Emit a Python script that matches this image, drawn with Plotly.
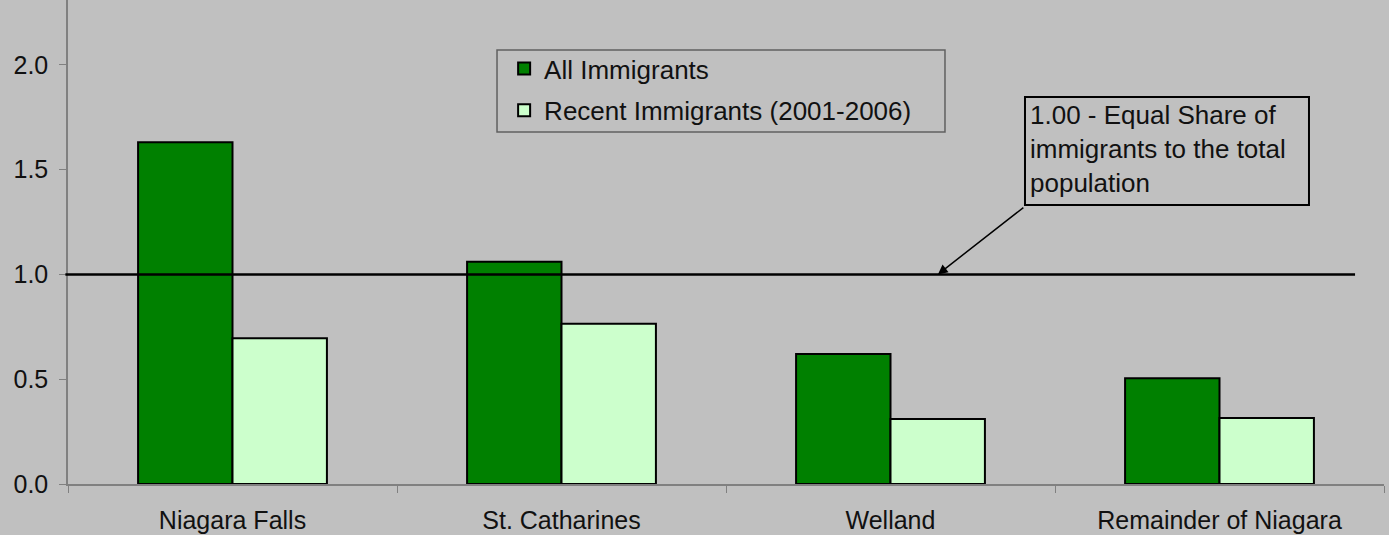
import plotly.graph_objects as go

regions = ['Niagara Falls', 'St. Catharines', 'Welland', 'Remainder of Niagara']
all_immigrants = [1.63, 1.06, 0.62, 0.505]
recent_immigrants = [0.695, 0.765, 0.31, 0.315]

font_family = 'Liberation Sans, Arial, sans-serif'
bg_color = '#C0C0C0'

fig = go.Figure()
fig.add_trace(go.Bar(x=regions, y=all_immigrants, name='All Immigrants', legendgroup='all',
                     marker=dict(color='#008000', line=dict(color='black', width=2))))
fig.add_trace(go.Bar(x=regions, y=recent_immigrants, name='Recent Immigrants (2001-2006)',
                     legendgroup='recent',
                     marker=dict(color='#CCFFCC', line=dict(color='black', width=2))))

fig.update_layout(width=1389,
                  height=535,
                  margin=dict(l=68, r=5, t=0, b=51),
                  paper_bgcolor=bg_color,
                  plot_bgcolor=bg_color,
                  font=dict(family=font_family, size=25, color='#111111'),
                  barmode='group',
                  bargap=0.426,
                  bargroupgap=0,
                  hovermode=False,
                  legend=dict(x=0.3314, y=0.907, xanchor='left', yanchor='top',
                              bgcolor='rgba(0,0,0,0)', borderwidth=0,
                              font=dict(size=26), traceorder='grouped',
                              tracegroupgap=5, itemwidth=30),
                  xaxis=dict(showline=True, linecolor='#808080', linewidth=1.5,
                             ticks='outside', tickson='boundaries', ticklen=7,
                             tickcolor='#808080', ticklabelstandoff=13,
                             showgrid=False, zeroline=False),
                  yaxis=dict(range=[0, 2.309], tickvals=[0, 0.5, 1.0, 1.5, 2.0],
                             ticktext=['0.0', '0.5', '1.0', '1.5', '2.0'],
                             showline=True, linecolor='#808080', linewidth=1.5,
                             ticks='outside', ticklen=7, tickcolor='#808080',
                             ticklabelstandoff=6,
                             showgrid=False, zeroline=False))

# legend frame
fig.add_shape(type='rect', xref='paper', yref='paper', x0=0.326, x1=0.6664, y0=0.7273, y1=0.8967,
              line=dict(color='#606060', width=1.5), layer='below')

# reference line at 1.0
fig.add_shape(type='line', xref='paper', yref='y', x0=-0.002, x1=0.978, y0=1.0, y1=1.0,
              line=dict(color='black', width=2.5))

# callout box
fig.add_shape(type='rect', xref='paper', yref='paper', x0=0.7272, x1=0.943, y0=0.5764, y1=0.7996,
              line=dict(color='black', width=2), fillcolor=bg_color, layer='above')
fig.add_annotation(xref='paper', yref='paper', x=0.7295, y=0.7985, xanchor='left', yanchor='top',
                   text='1.00 - Equal Share of<br>immigrants to the total<br>population',
                   align='left', showarrow=False, font=dict(size=26))
fig.add_annotation(xref='paper', yref='y', x=0.661, y=1.0, text='', showarrow=True,
                   ax=87, ay=-68, arrowhead=2, arrowsize=1.3, arrowwidth=1.5, arrowcolor='black')

fig.write_html("out.html", config={'displayModeBar': False},
               post_script="document.body.style.margin='0';")
